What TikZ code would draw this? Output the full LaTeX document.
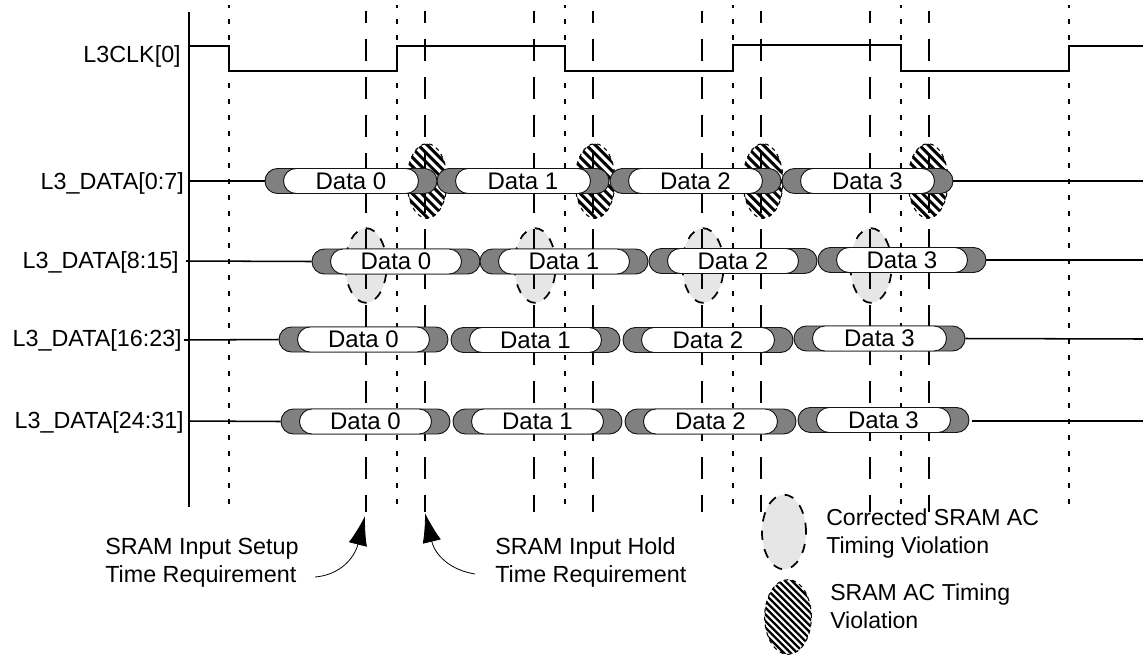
\documentclass[tikz,border=0pt]{standalone}
\usepackage{xcolor}
\usepackage{fontspec}
\setmainfont{Liberation Sans}
\usepackage{tikz}
\usetikzlibrary{arrows.meta, shapes.misc, shapes.geometric}
\definecolor{mydark}{RGB}{20,20,20}
\definecolor{pillgray}{RGB}{128,128,128}
\definecolor{fixgray}{RGB}{230,230,230}
\tikzset{
  sigline/.style={line width=1.15pt, color=black},
  longdash/.style={line width=1.15pt, color=black, dash pattern=on 16.5pt off 12pt, dash phase=7.5pt},
  shortdash/.style={line width=1.15pt, color=black, dash pattern=on 3.75pt off 8.25pt, dash phase=1.5pt},
  outerpill/.style={rounded rectangle, draw=mydark, fill=pillgray,
    inner sep=0pt, minimum height=18.75pt, line width=0.7pt},
  innerpill/.style={rounded rectangle, draw=mydark, fill=white,
    inner sep=0pt, minimum height=18.75pt, line width=0.7pt, font=\fontsize{18}{20}\selectfont},
  fixblob/.style={ellipse, draw=black, fill=fixgray, line width=1.3pt,
    dash pattern=on 7pt off 7pt, inner sep=0pt},
  hatchblob/.style 2 args={ellipse, draw=black, line width=0.8pt, dashed, inner sep=0pt,
    path picture={
      \foreach \d in {-12,...,12}
        \draw[line width=#2, solid] ([xshift=\d*#1-40pt,yshift=40pt]path picture bounding box.center)
          -- ([xshift=\d*#1+40pt,yshift=-40pt]path picture bounding box.center);
    }},
  siglabel/.style={anchor=east, font=\fontsize{17.5}{21}\selectfont, inner sep=0pt},
  notelabel/.style={anchor=west, align=left, inner sep=0pt, font=\fontsize{17.5}{21}\selectfont},
  keylabel/.style={notelabel, font=\fontsize{17.3}{21}\selectfont},
  reqarrow/.style={-{Latex[length=22pt,width=14pt]}, line width=0.6pt}
}
\begin{document}
\begin{tikzpicture}[x=0.75pt,y=-0.75pt]
  \useasboundingbox (0,0) rectangle (1143,662);
  % violation blobs
  \foreach \x/\n in {427/a,595/b,763/c,928/d}
    \node[hatchblob={6.8pt}{2.2pt}, minimum width=30pt, minimum height=56pt] (hatch\n) at (\x,181) {};
  \foreach \x/\n in {366/a,535/b,703/c,871/d}
    \node[fixblob, minimum width=31pt, minimum height=56pt] (fix\n) at (\x,265.5) {};
  % time axis and edges
  \coordinate (axtop) at (189,12);
  \coordinate (axbot) at (189,507);
  \draw[sigline] (axtop) -- (axbot);
  \foreach \x in {229,397,565,733,901,1069}
    \draw[shortdash] (\x,5) -- (\x,507);
  \foreach \x in {366,425,534,593,702,761,870,929}
    \draw[longdash] (\x,11) -- (\x,512);
  % clock
  \draw[sigline] (189,46) -- (229,46) -- (229,71) -- (397,71) -- (397,46) -- (565,46)
    -- (565,71) -- (733,71) -- (733,45) -- (901,45) -- (901,71) -- (1069,71) -- (1069,46) -- (1143,46);
  % labels
  \node[siglabel] (clklbl) at (181,56) {L3CLK[0]};
  \node[siglabel] (rowa) at (184,183) {L3\_DATA[0:7]};
  \node[siglabel] (rowb) at (179,262) {L3\_DATA[8:15]};
  \node[siglabel] (rowc) at (182,340) {L3\_DATA[16:23]};
  \node[siglabel] (rowd) at (184,422) {L3\_DATA[24:31]};
  % data bursts
  \foreach \xa/\xb/\y/\t/\n in {
      265/437/181/0/aa, 437/609/181/1/ab, 610/781/181/2/ac, 782/953/181/3/ad,
      312/480/261.5/0/ba, 480/648/261.5/1/bb, 649/817/261/2/bc, 818/986/260/3/bd,
      279/448/339.5/0/ca, 451/620/340/1/cb, 623/793/340/2/cc, 794/965/338.5/3/cd,
      281/450/421.5/0/da, 453/622/421.5/1/db, 625/796/421.5/2/dc, 798/969/420/3/dd} {
    \node[outerpill, minimum width={(\xb-\xa)*0.75pt}] (out\n) at ({(\xa+\xb)/2},\y) {};
    \node[innerpill, minimum width={(\xb-\xa-37)*0.75pt}] (in\n) at (out\n) {Data \t};
  }
  % free signal runs
  \draw[sigline] (189,181) -- (outaa.west);
  \draw[sigline] (outad.east) -- (1143,181);
  \draw[sigline] (186,261) -- (outba.west);
  \draw[sigline] (outbd.east) -- (1143,260);
  \draw[sigline] (184,340) -- (outca.west);
  \draw[sigline] (outcd.east) -- (1143,339);
  \draw[sigline] (189,421) -- (outda.west);
  \draw[sigline] (972,421) -- (1143,421);
  % requirement notes
  \node[notelabel] (setuplbl) at (105,563) {SRAM Input Setup\\Time Requirement};
  \node[notelabel] (holdlbl) at (495,562) {SRAM Input Hold\\Time Requirement};
  \coordinate (setupfrom) at (315,577);
  \coordinate (setuptip) at (365,516);
  \coordinate (holdfrom) at (475,574);
  \coordinate (holdtip) at (425,513);
  \draw[reqarrow] (setupfrom) .. controls (340,575) and (354.5,558) .. (setuptip);
  \draw[reqarrow] (holdfrom) .. controls (450,570) and (435,555) .. (holdtip);
  % legend
  \node[fixblob, minimum width=33pt, minimum height=56pt] (fixkey) at (784,532) {};
  \node[hatchblob={5pt}{1.7pt}, minimum width=35pt, minimum height=56pt] (hatchkey) at (788,617) {};
  \node[keylabel] (fixtext) at (826,534) {Corrected SRAM AC\\Timing Violation};
  \node[keylabel] (hatchtext) at (830,606.5) {SRAM AC Timing\\Violation};
\end{tikzpicture}
\end{document}
